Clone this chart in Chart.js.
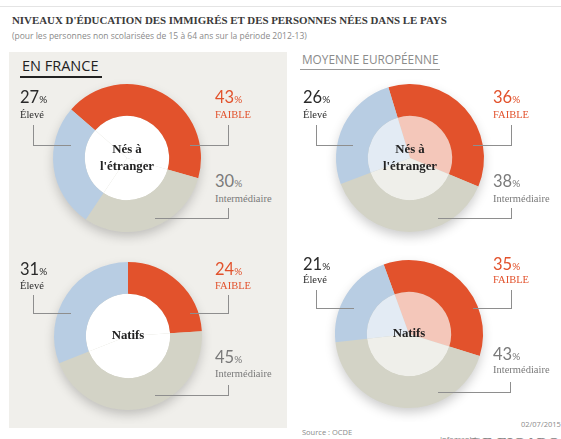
<!DOCTYPE html>
<html lang="fr">
<head>
<meta charset="utf-8">
<script src="https://cdn.jsdelivr.net/npm/chart.js@4.4.1/dist/chart.umd.min.js"></script>
<style>
  html, body { margin: 0; padding: 0; background: #ffffff; }
  body { width: 561px; height: 439px; position: relative; overflow: hidden; }
  .abs { position: absolute; white-space: nowrap; }
  .topline { left: 0; top: 6px; width: 561px; height: 1px; background: #e4e4e4; }
  .title { left: 12px; top: 14px; font: bold 10.9px "Liberation Serif", serif; color: #3a3a3a; }
  .subtitle { left: 12px; top: 30px; font: 8.5px "Open Sans", sans-serif; color: #8a8a8a; }
  .panel { left: 9px; top: 52px; width: 278px; height: 376px; background: #f0efeb; }
  .head-fr { left: 22px; top: 56px; font: 14.5px "Open Sans", sans-serif; color: #222; }
  .rule-fr { left: 20px; top: 76px; width: 82px; height: 2px; background: #222; }
  .head-eu { left: 302px; top: 51px; font: 11.8px "Open Sans", sans-serif; color: #8a8a8a; }
  .rule-eu { left: 300px; top: 69px; width: 140px; height: 1px; background: #9a9a9a; }
  canvas.donut { position: absolute; }
  .num { font: 16.5px Lato, sans-serif; line-height: 16px; transform: translateY(-50%); }
  .num small { font-size: 10px; }
  .word { font: 10.5px "Liberation Serif", serif; line-height: 12px; transform: translateY(-50%); }
  .c-eleve { color: #2a2a2a; }
  .c-faible { color: #e2522c; }
  .c-inter { color: #7a7a7a; }
  .lead { position: absolute; border-color: #8e8e8e; border-style: solid; border-width: 0; }
  .foot { font: 7.5px "Open Sans", sans-serif; color: #8a8a8a; }
  .brand { font: bold 15px "Liberation Serif", serif; color: #8a8a8a; letter-spacing: 0.5px; }
</style>
</head>
<body>
<div class="abs topline"></div>
<div class="abs title">NIVEAUX D'ÉDUCATION DES IMMIGRÉS ET DES PERSONNES NÉES DANS LE PAYS</div>
<div class="abs subtitle">(pour les personnes non scolarisées de 15 à 64 ans sur la période 2012-13)</div>
<div class="abs panel"></div>
<div class="abs head-fr">EN FRANCE</div>
<div class="abs rule-fr"></div>
<div class="abs head-eu">MOYENNE EUROPÉENNE</div>
<div class="abs rule-eu"></div>
<div class="abs foot" style="left:302px; top:427px;">Source : OCDE</div>
<div class="abs foot" style="left:521px; top:419px;">02/07/2015</div>
<div class="abs foot" style="left:440px; top:434px;">Infographie</div>
<div class="abs brand" style="left:472px; top:435px;">LE FIGARO</div>

<script>
// Education levels, in the order the slices are drawn (clockwise)
const categories = ['FAIBLE', 'Intermédiaire', 'Élevé'];

// Shares in percent: born abroad / born in the country
const franceForeign = [43, 30, 27];
const franceNative  = [24, 45, 31];
const europeForeign = [36, 38, 26];
const europeNative  = [35, 43, 21];

// Words written in the middle of each ring
const foreignCentre = ['Nés à', "l'étranger"];
const nativeCentre  = ['Natifs'];

const ringColours  = ['#e2522c', '#d3d3c6', '#b8cde3'];
const whiteCentre  = ['#ffffff', '#ffffff', '#ffffff'];
const tintedCentre = ['#f4c7ba', '#efefea', '#e3ebf4'];

// Soft drop shadow under each ring
const shadowPlugin = {
  id: 'ringShadow',
  beforeDatasetsDraw(chart) {
    const arc = chart.getDatasetMeta(0).data[0];
    if (!arc) return;
    const ctx = chart.ctx;
    ctx.save();
    ctx.beginPath();
    ctx.arc(arc.x, arc.y, arc.outerRadius - 1, 0, Math.PI * 2);
    ctx.shadowColor = 'rgba(0,0,0,0.22)';
    ctx.shadowBlur = 12;
    ctx.shadowOffsetY = 5;
    ctx.fillStyle = '#d3d3c6';
    ctx.fill();
    ctx.restore();
  }
};

// Centre caption drawn on top of the inner disc
const centrePlugin = {
  id: 'centreText',
  afterDatasetsDraw(chart, args, opts) {
    const arc = chart.getDatasetMeta(0).data[0];
    if (!arc) return;
    const ctx = chart.ctx;
    const lines = opts.lines || [];
    const lh = 17;
    ctx.save();
    ctx.font = 'bold 12.8px "Liberation Serif", serif';
    ctx.fillStyle = '#222222';
    ctx.textAlign = 'center';
    ctx.textBaseline = 'middle';
    const top = arc.y - (lines.length - 1) * lh / 2;
    lines.forEach((t, i) => ctx.fillText(t, arc.x, top + i * lh));
    ctx.restore();
  }
};

function makeDonut(cx, cy, values, centreColours, rotation, lines) {
  const size = 176;
  const cv = document.createElement('canvas');
  cv.className = 'donut';
  cv.width = size; cv.height = size;
  cv.style.left = (cx - size / 2) + 'px';
  cv.style.top = (cy - size / 2) + 'px';
  cv.style.width = size + 'px'; cv.style.height = size + 'px';
  document.body.appendChild(cv);
  new Chart(cv, {
    type: 'doughnut',
    data: {
      labels: categories,
      datasets: [
        { data: values, backgroundColor: ringColours, borderWidth: 0, weight: 43 },
        { data: values, backgroundColor: centreColours, borderWidth: 0, weight: 57 }
      ]
    },
    options: {
      responsive: false,
      devicePixelRatio: 1,
      animation: false,
      cutout: 0,
      rotation: rotation,
      layout: { padding: 14 },
      events: [],
      plugins: {
        legend: { display: false },
        tooltip: { enabled: false },
        centreText: { lines: lines }
      }
    },
    plugins: [shadowPlugin, centrePlugin]
  });
}

makeDonut(127, 158, franceForeign, whiteCentre, -49, foreignCentre);
makeDonut(128, 336, franceNative, whiteCentre, 0, nativeCentre);
makeDonut(410, 158, europeForeign, tintedCentre, -17, foreignCentre);
makeDonut(409, 334, europeNative, tintedCentre, -20, nativeCentre);

// Value labels with their leader lines
function addText(cls, x, y, html) {
  const d = document.createElement('div');
  d.className = 'abs ' + cls;
  d.style.left = x + 'px';
  d.style.top = y + 'px';
  d.innerHTML = html;
  document.body.appendChild(d);
}
function addLead(x, y, w, h, sides) {
  const d = document.createElement('div');
  d.className = 'lead';
  d.style.left = x + 'px'; d.style.top = y + 'px';
  d.style.width = w + 'px'; d.style.height = h + 'px';
  sides.forEach(s => d.style['border' + s + 'Width'] = '1px');
  document.body.appendChild(d);
}
function pct(v) { return v + '<small>%</small>'; }

function labelSet(values, pos) {
  const [faible, inter, eleve] = values;
  addText('num c-eleve', pos.eleve[0], pos.eleve[1], pct(eleve));
  addText('word c-eleve', pos.eleve[0], pos.eleve[1] + pos.gap, categories[2]);
  addText('num c-faible', pos.faible[0], pos.faible[1], pct(faible));
  addText('word c-faible', pos.faible[0], pos.faible[1] + pos.gap, categories[0]);
  addText('num c-inter', pos.inter[0], pos.inter[1], pct(inter));
  addText('word c-inter', pos.inter[0], pos.inter[1] + pos.gap, categories[1]);
}

labelSet(franceForeign, { eleve: [20, 98], faible: [215, 98], inter: [215, 182], gap: 17 });
labelSet(europeForeign, { eleve: [303, 98], faible: [493, 98], inter: [493, 182], gap: 17 });
labelSet(franceNative,  { eleve: [20, 270], faible: [215, 270], inter: [215, 358], gap: 16 });
labelSet(europeNative,  { eleve: [303, 265], faible: [493, 265], inter: [493, 355], gap: 15 });

addLead(33, 125, 37, 20, ['Left', 'Bottom']);
addLead(190, 125, 38, 20, ['Right', 'Bottom']);
addLead(155, 208, 73, 10, ['Right', 'Bottom']);
addLead(316, 125, 36, 20, ['Left', 'Bottom']);
addLead(473, 125, 38, 20, ['Right', 'Bottom']);
addLead(438, 208, 73, 10, ['Right', 'Bottom']);
addLead(33, 295, 37, 18, ['Left', 'Bottom']);
addLead(190, 295, 38, 18, ['Right', 'Bottom']);
addLead(155, 385, 73, 10, ['Right', 'Bottom']);
addLead(316, 290, 37, 18, ['Left', 'Bottom']);
addLead(473, 290, 38, 18, ['Right', 'Bottom']);
addLead(438, 382, 72, 10, ['Right', 'Bottom']);
</script>
</body>
</html>
